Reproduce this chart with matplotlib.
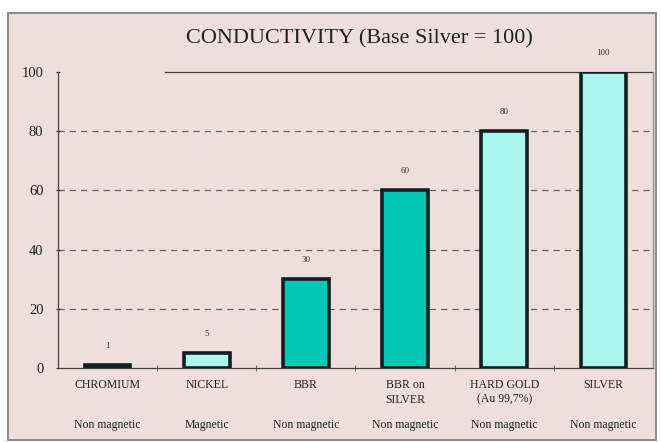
import matplotlib.pyplot as plt
from matplotlib.patches import Rectangle
import matplotlib.transforms as mtransforms

# conductivity relative to silver
metals = ["CHROMIUM", "NICKEL", "BBR", "BBR on\nSILVER", "HARD GOLD\n(Au 99,7%)", "SILVER"]
magnetism = ["Non magnetic", "Magnetic", "Non magnetic", "Non magnetic", "Non magnetic", "Non magnetic"]
conductivity = [1, 5, 30, 60, 80, 100]
bar_colors = ["#1f8f82", "#aaf5ee", "#00c8b4", "#00c8b4", "#aaf5ee", "#aaf5ee"]

plt.rcParams['font.family'] = ['Liberation Serif', 'DejaVu Serif']

fig = plt.figure(figsize=(6.61, 4.42), dpi=100)
fig.patch.set_facecolor("white")
bg = "#eedede"

# panel frame
frame = Rectangle((8 / 661, 2 / 442), 648 / 661, 427 / 442, transform=fig.transFigure,
                  facecolor=bg, edgecolor="#8a8a8a", linewidth=1.4, zorder=-10)
fig.add_artist(frame)

ax = fig.add_axes([58 / 661, 1 - 368 / 442, 595 / 661, 296 / 442])
ax.patch.set_alpha(0)

x = list(range(len(metals)))
bars = ax.bar(x, conductivity, width=0.46, color=bar_colors, edgecolor="#102020",
              linewidth=2.6, zorder=3)
for xi, v in zip(x, conductivity):
    ax.annotate(str(v), (xi, v), xytext=(0, 11), textcoords="offset points",
                ha="center", va="bottom", fontsize=6.5, color="#333333")

ax.set_xlim(-0.5, 5.5)
ax.set_ylim(0, 100)
ax.set_yticks([0, 20, 40, 60, 80, 100])
ax.tick_params(axis="y", length=3, direction="inout", labelsize=10.5, colors="#222222", pad=9)
ax.set_xticks([i + 0.5 for i in range(5)])
ax.set_xticklabels([])
ax.tick_params(axis="x", length=5, direction="inout", colors="#666666")

for y in [20, 40, 60, 80]:
    ax.axhline(y, color="#666666", linestyle=(0, (5, 4)), linewidth=0.9, zorder=1)

for s in ["left", "bottom", "right"]:
    ax.spines[s].set_color("#444444")
    ax.spines[s].set_linewidth(0.9)
ax.spines["right"].set_color("#888888")
ax.spines["top"].set_visible(False)
# top border only to the right of the title
ax.plot([(165 - 58) / 595 * 6 - 0.5, 5.5], [100, 100], color="#444444", linewidth=0.9,
        clip_on=False, zorder=2)

trans = mtransforms.blended_transform_factory(ax.transData, fig.transFigure)
for xi, name, mag in zip(x, metals, magnetism):
    ax.text(xi, 1 - 379 / 442, name, transform=trans, ha="center", va="top",
            fontsize=8.5, color="#222222", linespacing=1.3)
    ax.text(xi, 1 - 425 / 442, mag, transform=trans, ha="center", va="center",
            fontsize=8.5, color="#222222")

fig.text(359 / 661, 1 - 39 / 442, "CONDUCTIVITY (Base Silver = 100)", ha="center",
         va="center", fontsize=16, color="#222222")

fig.savefig("out.png", dpi=100, facecolor=fig.get_facecolor())
